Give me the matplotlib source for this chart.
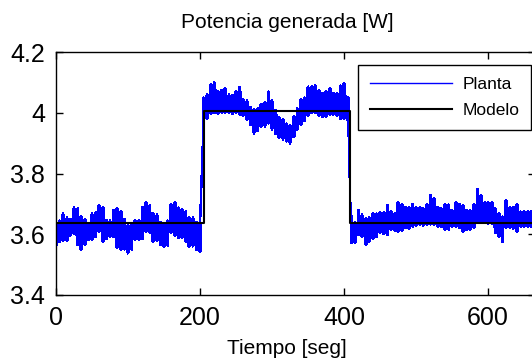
import numpy as np
import matplotlib
matplotlib.use("Agg")
import matplotlib.pyplot as plt

plt.rcParams['font.family'] = ['Liberation Sans', 'DejaVu Sans']

# ----------------------
# Datos
# ----------------------

# instantes de muestreo [seg]
tiempo = np.arange(0, 661, 5)

# envolvente superior / inferior de la potencia medida (Planta)
planta_sup = [
    3.640, 3.645, 3.668, 3.655, 3.650, 3.688, 3.685, 3.660, 3.650, 3.638,
    3.668, 3.672, 3.696, 3.690, 3.648, 3.645, 3.680, 3.686, 3.675, 3.650,
    3.632, 3.633, 3.647, 3.648, 3.690, 3.707, 3.695, 3.669, 3.665, 3.640,
    3.638, 3.645, 3.700, 3.707, 3.688, 3.684, 3.675, 3.658, 3.655, 3.640,
    3.636,
    4.050, 4.060, 4.095, 4.100, 4.070, 4.075, 4.080, 4.060, 4.058, 4.070,
    4.086, 4.045, 4.040, 4.020, 4.013, 4.015, 4.030, 4.035, 4.070, 4.040,
    4.010, 3.985, 3.980, 3.965, 3.960, 3.990, 4.015, 4.045, 4.050, 4.086,
    4.088, 4.090, 4.075, 4.064, 4.070, 4.080, 4.065, 4.064, 4.090, 4.097,
    4.053,
    3.660, 3.641, 3.680, 3.665, 3.652, 3.655, 3.669, 3.668, 3.672, 3.674,
    3.696, 3.675, 3.669, 3.707, 3.700, 3.690, 3.690, 3.700, 3.690, 3.690,
    3.685, 3.700, 3.730, 3.720, 3.690, 3.685, 3.700, 3.698, 3.680, 3.707,
    3.700, 3.696, 3.680, 3.680, 3.700, 3.750, 3.730, 3.705, 3.705, 3.705,
    3.685, 3.670, 3.658, 3.713, 3.690, 3.690, 3.700, 3.675, 3.675, 3.676,
    3.675,
]
planta_inf = [
    3.560, 3.575, 3.577, 3.578, 3.595, 3.600, 3.565, 3.548, 3.565, 3.580,
    3.582, 3.590, 3.608, 3.576, 3.585, 3.592, 3.590, 3.555, 3.548, 3.550,
    3.537, 3.550, 3.580, 3.582, 3.585, 3.609, 3.605, 3.576, 3.577, 3.565,
    3.559, 3.562, 3.603, 3.595, 3.587, 3.588, 3.575, 3.559, 3.560, 3.548,
    3.543,
    3.980, 3.980, 3.995, 3.998, 3.995, 4.000, 3.998, 4.000, 3.995, 4.000,
    3.993, 3.990, 3.975, 3.960, 3.932, 3.940, 3.954, 3.955, 3.965, 3.945,
    3.930, 3.916, 3.912, 3.905, 3.899, 3.920, 3.943, 3.960, 3.972, 3.990,
    3.998, 3.998, 3.990, 3.987, 3.985, 3.993, 3.993, 3.990, 3.980, 3.980,
    3.975,
    3.570, 3.570, 3.597, 3.590, 3.565, 3.575, 3.586, 3.590, 3.603, 3.600,
    3.597, 3.614, 3.612, 3.608, 3.610, 3.620, 3.618, 3.625, 3.626, 3.630,
    3.628, 3.630, 3.632, 3.630, 3.625, 3.624, 3.614, 3.615, 3.625, 3.625,
    3.620, 3.608, 3.614, 3.614, 3.620, 3.636, 3.636, 3.636, 3.634, 3.634,
    3.603, 3.590, 3.575, 3.620, 3.620, 3.618, 3.608, 3.625, 3.625, 3.625,
    3.625,
]

# respuesta del modelo (escalones)
modelo_t = [0, 205, 205, 408, 408, 665]
modelo_p = [3.638, 3.638, 4.005, 4.005, 3.638, 3.638]

x_ticks = [0, 200, 400, 600]
y_ticks = [3.4, 3.6, 3.8, 4.0, 4.2]
y_ticklabels = ['3.4', '3.6', '3.8', '4', '4.2']

# ----------------------
# Grafico
# ----------------------

W, H = 532, 361
fig = plt.figure(figsize=(W / 100, H / 100), dpi=100)
ax = fig.add_axes([56 / W, 1 - 295 / H, (535 - 56) / W, (295 - 52) / H])

sup = np.array(planta_sup)
inf = np.array(planta_inf)

# banda de ruido de la planta
ax.fill_between(tiempo, inf, sup, step='mid', color='#0000ff', lw=0,
                antialiased=False, zorder=2)
t_zz = np.repeat(tiempo, 2)
p_zz = np.column_stack([inf, sup]).ravel()
ax.plot(t_zz, p_zz, color='#0000ff', lw=1.0, antialiased=False,
        label='Planta', zorder=2)

ax.plot(modelo_t, modelo_p, color='black', lw=1.5, label='Modelo', zorder=3)

ax.set_xlim(0, 665)
ax.set_ylim(3.4, 4.2)
ax.set_xticks(x_ticks)
ax.set_xticklabels([str(v) for v in x_ticks])
ax.set_yticks(y_ticks)
ax.set_yticklabels(y_ticklabels)
ax.tick_params(direction='in', top=True, right=True, length=5, width=1,
               labelsize=18, pad=8)
for s in ax.spines.values():
    s.set_linewidth(1.0)

fig.text(287 / W, 1 - 22 / H, 'Potencia generada [W]', ha='center',
         va='center', fontsize=15)
fig.text(287 / W, 1 - 349 / H, 'Tiempo [seg]', ha='center', va='center',
         fontsize=15)

leg = ax.legend(loc='upper left', bbox_to_anchor=(358 / W, 1 - 65 / H),
                bbox_transform=fig.transFigure, fontsize=12.5, frameon=True,
                fancybox=False, edgecolor='black', framealpha=1,
                handlelength=4.7, handletextpad=0.6, labelspacing=0.6,
                borderpad=0.7, borderaxespad=0)
leg.get_frame().set_linewidth(1.0)

fig.savefig('out.png', dpi=100)
